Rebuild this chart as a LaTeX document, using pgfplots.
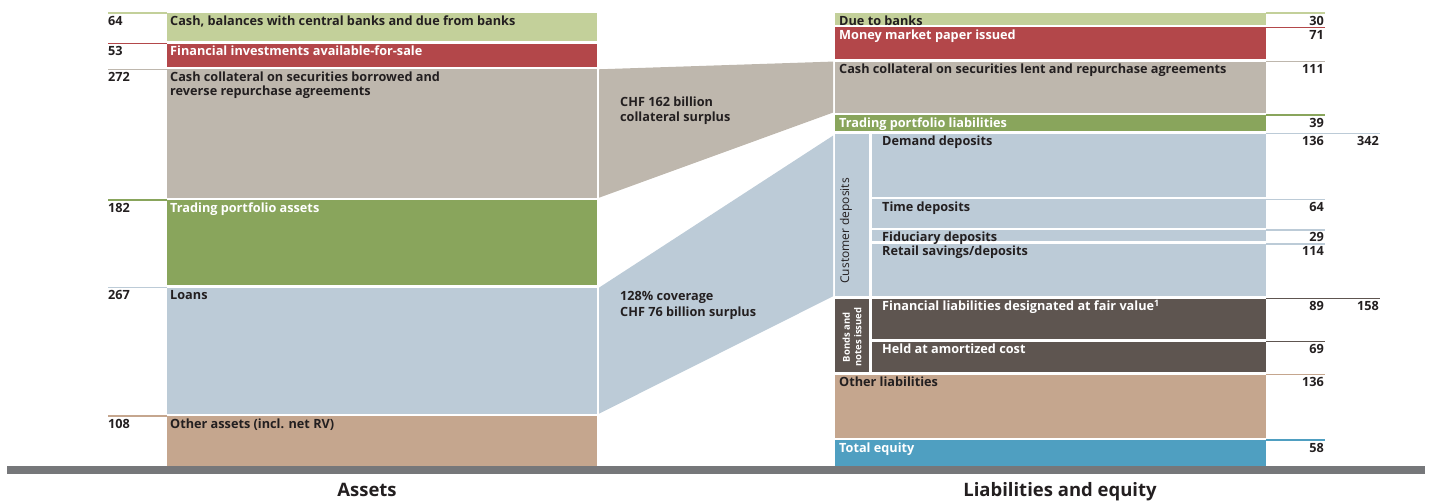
\documentclass[border=0pt]{standalone}
\usepackage{pgfplots}
\pgfplotsset{compat=1.18}
\usepackage{fontspec}
\setmainfont{Open Sans}
\definecolor{cLG}{HTML}{C3D09A}
\definecolor{cRed}{HTML}{B3474A}
\definecolor{cTaupe}{HTML}{BEB7AD}
\definecolor{cGreen}{HTML}{89A55C}
\definecolor{cBlue}{HTML}{BCCBD7}
\definecolor{cTan}{HTML}{C5A68E}
\definecolor{cBrown}{HTML}{5E5550}
\definecolor{cEq}{HTML}{4F9FC1}
\definecolor{cFloor}{HTML}{76777A}
\definecolor{cTxt}{HTML}{231F20}
\newcommand\lf{\fontsize{12.7}{14}\selectfont\bfseries}
% box: x1 x2 vtop vbottom colour
\newcommand\bx[5]{\addplot[fill=#5,draw=none] coordinates {(#1,#3) (#2,#3) (#2,#4) (#1,#4)};}
% line in number column: v xstart xend colour
\newcommand\nl[4]{\addplot[#4,line width=1.3pt] coordinates {(#2,#1) (#3,#1)};}
\begin{document}
\begin{tikzpicture}
\begin{axis}[width=1431pt,height=501pt,scale only axis,
  xmin=0,xmax=1431,ymin=-27.03,ymax=1014.55,y dir=reverse,
  hide axis,clip=false]
\path (rel axis cs:0,0) rectangle (rel axis cs:1,1);
% ---- connectors
\addplot[fill=cTaupe,draw=none] coordinates {(599,117) (833,101) (833,207) (599,384)};
\addplot[fill=cBlue,draw=none] coordinates {(599,571) (833,255) (833,589) (599,833)};
% ---- assets (CHF billion): 64, 53, 272, 182, 267, 108
\bx{167}{597}{0}{59}{cLG}     \nl{0}{108}{167}{cLG}
\bx{167}{597}{64}{112}{cRed}  \nl{64}{108}{167}{cRed}
\bx{167}{597}{117}{384}{cTaupe} \nl{117}{108}{167}{cTaupe}
\bx{167}{597}{389}{566}{cGreen} \nl{389}{108}{167}{cGreen}
\bx{167}{597}{571}{833}{cBlue}  \nl{571}{108}{167}{cBlue}
\bx{167}{597}{838}{941}{cTan}   \nl{838}{108}{167}{cTan}
\begin{scope}[every node/.style={anchor=base west,inner sep=0pt,font=\lf,text=cTxt}]
\node at (108,25) {64};
\node at (108,89) {53};
\node at (108,142) {272};
\node at (108,414) {182};
\node at (108,596) {267};
\node at (108,863) {108};
\node at (170,25) {Cash, balances with central banks and due from banks};
\node[text=white] at (170,89) {Financial investments available-for-sale};
\node at (170,142) {Cash collateral on securities borrowed and};
\node at (170,171) {reverse repurchase agreements};
\node[text=white] at (170,414) {Trading portfolio assets};
\node at (170,596) {Loans};
\node at (170,863) {Other assets (incl. net RV)};
\node at (620,195) {CHF 162 billion};
\node at (620,226) {collateral surplus};
\node at (620,597) {128\% coverage};
\node at (620,630) {CHF 76 billion surplus};
\end{scope}
% ---- liabilities and equity: 30, 71, 111, 39, (136, 64, 29, 114), (89, 69), 136, 58
\bx{835}{1266}{0}{25}{cLG}       \nl{0}{1266}{1325}{cLG}
\bx{835}{1266}{30}{96}{cRed}     \nl{30}{1266}{1325}{cRed}
\bx{835}{1266}{101}{207}{cTaupe} \nl{101}{1266}{1325}{cTaupe}
\bx{835}{1266}{212}{246}{cGreen} \nl{212}{1266}{1325}{cGreen}
\bx{835}{869}{251}{589}{cBlue}
\bx{872}{1266}{251}{382}{cBlue}  \nl{251}{1266}{1380}{cBlue}
\bx{872}{1266}{387}{446}{cBlue}  \nl{387}{1266}{1325}{cBlue}
\bx{872}{1266}{451}{475}{cBlue}  \nl{451}{1266}{1325}{cBlue}
\bx{872}{1266}{480}{589}{cBlue}  \nl{480}{1266}{1325}{cBlue}
\bx{835}{869}{594}{747}{cBrown}
\bx{872}{1266}{594}{678}{cBrown} \nl{594}{1266}{1380}{cBrown}
\bx{872}{1266}{683}{747}{cBrown} \nl{683}{1266}{1325}{cBrown}
\bx{835}{1266}{752}{883}{cTan}   \nl{752}{1266}{1325}{cTan}
\bx{835}{1266}{888}{941}{cEq}    \nl{888}{1266}{1325}{cEq}
\begin{scope}[every node/.style={anchor=base east,inner sep=0pt,font=\lf,text=cTxt}]
\node at (1324,25) {30};
\node at (1324,55) {71};
\node at (1324,126) {111};
\node at (1324,237) {39};
\node at (1324,276) {136};
\node at (1379,276) {342};
\node at (1324,412) {64};
\node at (1324,476) {29};
\node at (1324,505) {114};
\node at (1324,619) {89};
\node at (1379,619) {158};
\node at (1324,708) {69};
\node at (1324,777) {136};
\node at (1324,913) {58};
\end{scope}
\begin{scope}[every node/.style={anchor=base west,inner sep=0pt,font=\lf,text=cTxt}]
\node at (839,25) {Due to banks};
\node[text=white] at (839,55) {Money market paper issued};
\node at (839,126) {Cash collateral on securities lent and repurchase agreements};
\node[text=white] at (839,237) {Trading portfolio liabilities};
\node at (882,276) {Demand deposits};
\node at (882,412) {Time deposits};
\node at (882,476) {Fiduciary deposits};
\node at (882,505) {Retail savings/deposits};
\node[text=white] at (882,619) {Financial liabilities designated at fair value\textsuperscript{1}};
\node[text=white] at (882,708) {Held at amortized cost};
\node at (839,777) {Other liabilities};
\node[text=white] at (839,913) {Total equity};
\end{scope}
\node[rotate=90,inner sep=0pt,text=cTxt,font=\fontsize{12}{13}\selectfont] at (846,453) {Customer deposits};
\node[rotate=90,inner sep=0pt,text=white,align=center,font=\fontsize{9.5}{11.5}\selectfont\bfseries] at (852,674) {Bonds and\\notes issued};
% ---- floor and captions
\addplot[fill=cFloor,draw=none] coordinates {(7,942) (1425,942) (1425,958) (7,958)};
\node[anchor=base,inner sep=0pt,text=cTxt,font=\fontsize{18.5}{20}\selectfont\bfseries] at (367,1006) {Assets};
\node[anchor=base,inner sep=0pt,text=cTxt,font=\fontsize{18.5}{20}\selectfont\bfseries] at (1060,1006) {Liabilities and equity};
\end{axis}
\end{tikzpicture}
\end{document}
